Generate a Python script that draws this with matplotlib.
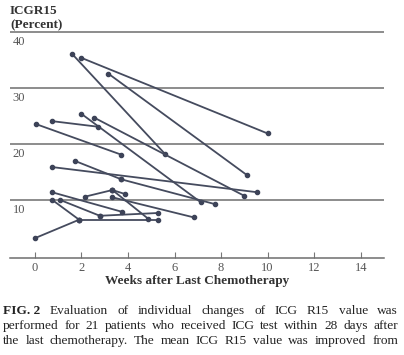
import matplotlib
matplotlib.use("Agg")
import matplotlib.pyplot as plt
import numpy as np

# one segment per change: (weeks, ICG R15) start -> end
x_start = [1.6, 2.0, 3.15, 2.0, 2.56, 0.74, 0.03, 1.72, 3.72, 0.74,
           0.0, 0.74, 1.9, 1.07, 2.79, 0.74, 2.14, 3.33, 3.33, 3.33]
y_start = [36.1, 35.4, 32.6, 25.4, 24.7, 24.1, 23.6, 17.0, 13.7, 15.9,
           3.2, 10.05, 6.5, 10.05, 7.2, 11.4, 10.6, 11.8, 10.5, 11.8]
x_end = [5.6, 10.0, 9.1, 7.12, 8.98, 2.72, 3.72, 3.72, 7.72, 9.56,
         1.9, 1.9, 5.29, 2.79, 5.29, 3.75, 3.33, 4.86, 6.84, 3.86]
y_end = [18.2, 21.9, 14.5, 9.64, 10.8, 23.1, 18.1, 13.7, 9.3, 11.4,
         6.5, 6.5, 6.5, 7.2, 7.7, 7.9, 11.8, 6.7, 6.9, 11.1]

xticks = [0, 2, 4, 6, 8, 10, 12, 14]
grid_y = [10, 20, 30, 40]

W, H = 404, 355
fig = plt.figure(figsize=(W / 100, H / 100), dpi=100)
fig.patch.set_facecolor("white")
ax = fig.add_axes([10 / W, 1 - 257.5 / H, 374 / W, 226.5 / H])

serif = "Liberation Serif"
line_c = "#454b5e"
grid_c = "#6e6e6e"

for yg in grid_y:
    ax.axhline(yg, color=grid_c, lw=1.1, zorder=1)
    ax.text(-0.95, yg - 0.7, str(yg), va="top", ha="left",
            fontsize=9, family=serif, color="#555555")

for a, b, c, d in zip(x_start, y_start, x_end, y_end):
    ax.plot([a, c], [b, d], color=line_c, lw=1.3, marker="o", ms=3,
            mfc="#3d4358", mec="#3d4358", zorder=3, solid_capstyle="round")

ax.set_xlim(-1.07, 15.0)
ax.set_ylim(-0.25, 40.2)
for s in ["top", "right", "left"]:
    ax.spines[s].set_visible(False)
ax.spines["bottom"].set_color(grid_c)
ax.spines["bottom"].set_linewidth(1.1)
ax.set_yticks([])
ax.set_xticks(xticks)
ax.set_xticklabels([str(t) for t in xticks], family=serif, fontsize=9,
                   color="#555555")
ax.tick_params(axis="x", direction="in", length=4.5, width=0.8,
               color="#777777", pad=3)

ax.set_xlabel("Weeks after Last Chemotherapy", family=serif,
              fontweight="bold", fontsize=9.5, color="#333333", labelpad=1)

fig.text(10 / W, 1 - 11 / H, "ICGR15", family=serif, fontweight="bold",
         fontsize=9.5, color="#333333", va="center", ha="left")
fig.text(10 / W, 1 - 25 / H, "(Percent)", family=serif, fontweight="bold",
         fontsize=9.5, color="#333333", va="center", ha="left")

# justified caption
caption = [
    ["FIG. 2", "Evaluation", "of", "individual", "changes", "of", "ICG",
     "R15", "value", "was"],
    ["performed", "for", "21", "patients", "who", "received", "ICG", "test",
     "within", "28", "days", "after"],
    ["the", "last", "chemotherapy.", "The", "mean", "ICG", "R15", "value",
     "was", "improved", "from"],
]
cap_y = [311, 326, 341]
left_px, right_px = 3, 398
fig.canvas.draw()
r = fig.canvas.get_renderer()
for words, yy in zip(caption, cap_y):
    objs = []
    for w in words:
        bold = w == "FIG. 2"
        t = fig.text(0, 1 - yy / H, w, family=serif, fontsize=9.6,
                     fontweight="bold" if bold else "normal",
                     color="#222222", va="center", ha="left")
        objs.append(t)
    widths = [t.get_window_extent(r).width for t in objs]
    gap = (right_px - left_px - sum(widths)) / (len(objs) - 1)
    x = left_px
    for t, w in zip(objs, widths):
        t.set_x(x / W)
        x += w + gap

fig.savefig("out.png", dpi=100)
